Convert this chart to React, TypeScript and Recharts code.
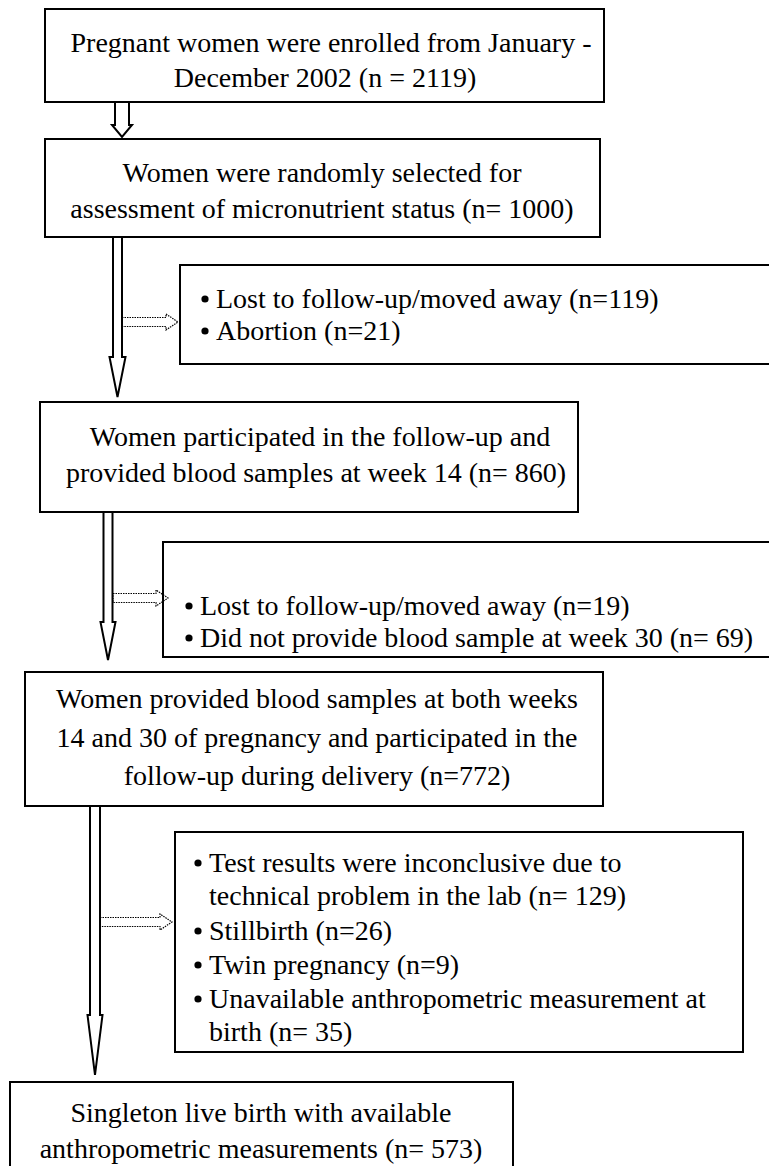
import React from 'react';
import { ScatterChart, Scatter, XAxis, YAxis, ReferenceArea } from 'recharts';

// page is 769 x 1166 and the axes run 0..769 / 0..1166, so one data unit = one pixel
const W = 769;
const H = 1166;
const FONT = 'Liberation Serif';
const FONT_SIZE = 28;

// flowchart boxes (x1..x2, y1..y2)
const boxes = [
  { id: 'enrolled', x1: 45, x2: 604, y1: 9, y2: 102 },
  { id: 'selected', x1: 45, x2: 600, y1: 139, y2: 237 },
  { id: 'excl1', x1: 180, x2: 780, y1: 265, y2: 364 },
  { id: 'week14', x1: 40, x2: 578, y1: 402, y2: 512 },
  { id: 'excl2', x1: 163, x2: 780, y1: 542, y2: 657 },
  { id: 'week30', x1: 25, x2: 603, y1: 672, y2: 806 },
  { id: 'excl3', x1: 175, x2: 743, y1: 832, y2: 1052 },
  { id: 'final', x1: 10, x2: 513, y1: 1082, y2: 1190 },
];

// centred lines inside the main boxes
const centerLines = [
  { x: 331, y: 42, text: 'Pregnant women were enrolled from January -' },
  { x: 325, y: 77, text: 'December 2002 (n = 2119)' },
  { x: 322, y: 172, text: 'Women were randomly selected for' },
  { x: 322, y: 208, text: 'assessment of micronutrient status (n= 1000)' },
  { x: 320, y: 436, text: 'Women participated in the follow-up and' },
  { x: 316, y: 472, text: 'provided blood samples at week 14 (n= 860)' },
  { x: 317, y: 698, text: 'Women provided blood samples at both weeks' },
  { x: 317, y: 737, text: '14 and 30 of pregnancy and participated in the' },
  { x: 317, y: 775, text: 'follow-up during delivery (n=772)' },
  { x: 261, y: 1112, text: 'Singleton live birth with available' },
  { x: 261, y: 1148, text: 'anthropometric measurements (n= 573)' },
];

// left-aligned bullet lines in the exclusion boxes
const bulletLines = [
  { x: 216, y: 298, bullet: true, text: 'Lost to follow-up/moved away (n=119)' },
  { x: 216, y: 330, bullet: true, text: 'Abortion (n=21)' },
  { x: 200, y: 605, bullet: true, text: 'Lost to follow-up/moved away (n=19)' },
  { x: 200, y: 637, bullet: true, text: 'Did not provide blood sample at week 30 (n= 69)' },
  { x: 209, y: 862, bullet: true, text: 'Test results were inconclusive due to' },
  { x: 209, y: 895, bullet: false, text: 'technical problem in the lab (n= 129)' },
  { x: 209, y: 930, bullet: true, text: 'Stillbirth (n=26)' },
  { x: 209, y: 964, bullet: true, text: 'Twin pregnancy (n=9)' },
  { x: 209, y: 998, bullet: true, text: 'Unavailable anthropometric measurement at' },
  { x: 209, y: 1031, bullet: false, text: 'birth (n= 35)' },
];

// hollow block arrows pointing down: tip position, total length, shaft width, head width, head length
const downArrows = [
  { x: 122, y: 137, len: 35, shaft: 14, head: 20, headLen: 12 },
  { x: 117.5, y: 397, len: 160, shaft: 9, head: 16, headLen: 40 },
  { x: 108, y: 660, len: 148, shaft: 9, head: 15, headLen: 38 },
  { x: 95, y: 1075, len: 269, shaft: 10, head: 15, headLen: 60 },
];

// dotted block arrows pointing right: tip position, total length
const sideArrows = [
  { x: 178, y: 322, len: 56, shaft: 9, head: 16, headLen: 12 },
  { x: 168, y: 598, len: 55, shaft: 9, head: 16, headLen: 12 },
  { x: 172, y: 922, len: 72, shaft: 9, head: 16, headLen: 12 },
];

const DownArrow = (props: any) => {
  const { cx, cy, payload } = props;
  const { len, shaft, head, headLen } = payload;
  const s = shaft / 2;
  const h = head / 2;
  const pts = [
    [cx - s, cy - len],
    [cx + s, cy - len],
    [cx + s, cy - headLen],
    [cx + h, cy - headLen],
    [cx, cy],
    [cx - h, cy - headLen],
    [cx - s, cy - headLen],
  ];
  return (
    <polygon
      points={pts.map((p) => p.join(',')).join(' ')}
      fill="#fff"
      stroke="#000"
      strokeWidth={2}
    />
  );
};

const SideArrow = (props: any) => {
  const { cx, cy, payload } = props;
  const { len, shaft, head, headLen } = payload;
  const s = shaft / 2;
  const h = head / 2;
  const pts = [
    [cx - len, cy - s],
    [cx - headLen, cy - s],
    [cx - headLen, cy - h],
    [cx, cy],
    [cx - headLen, cy + h],
    [cx - headLen, cy + s],
    [cx - len, cy + s],
  ];
  return (
    <polygon
      points={pts.map((p) => p.join(',')).join(' ')}
      fill="none"
      stroke="#000"
      strokeWidth={1.2}
      strokeDasharray="1.5 1"
    />
  );
};

const textStyle = { fontFamily: FONT, fontSize: FONT_SIZE, fill: '#000' };

const CenterText = (props: any) => {
  const { cx, cy, payload } = props;
  return (
    <text x={cx} y={cy} textAnchor="middle" dominantBaseline="central" style={textStyle}>
      {payload.text}
    </text>
  );
};

const BulletText = (props: any) => {
  const { cx, cy, payload } = props;
  return (
    <g>
      {payload.bullet && <circle cx={cx - 11} cy={cy + 1} r={3.6} fill="#000" />}
      <text x={cx} y={cy} textAnchor="start" dominantBaseline="central" style={textStyle}>
        {payload.text}
      </text>
    </g>
  );
};

export default function App() {
  return (
    <div style={{ position: 'absolute', left: 0, top: 0, width: W, height: H, background: '#fff' }}>
      <ScatterChart width={W} height={H} margin={{ top: 0, right: 0, bottom: 0, left: 0 }}>
        <XAxis type="number" dataKey="x" domain={[0, W]} hide allowDataOverflow />
        <YAxis type="number" dataKey="y" domain={[0, H]} reversed hide allowDataOverflow />
        {boxes.map((b) => (
          <ReferenceArea key={b.id} x1={b.x1} x2={b.x2} y1={b.y1} y2={b.y2}
            fill="none" stroke="#000" strokeWidth={2} ifOverflow="visible" />
        ))}
        <Scatter data={downArrows} shape={DownArrow} isAnimationActive={false} />
        <Scatter data={sideArrows} shape={SideArrow} isAnimationActive={false} />
        <Scatter data={centerLines} shape={CenterText} isAnimationActive={false} />
        <Scatter data={bulletLines} shape={BulletText} isAnimationActive={false} />
      </ScatterChart>
    </div>
  );
}
